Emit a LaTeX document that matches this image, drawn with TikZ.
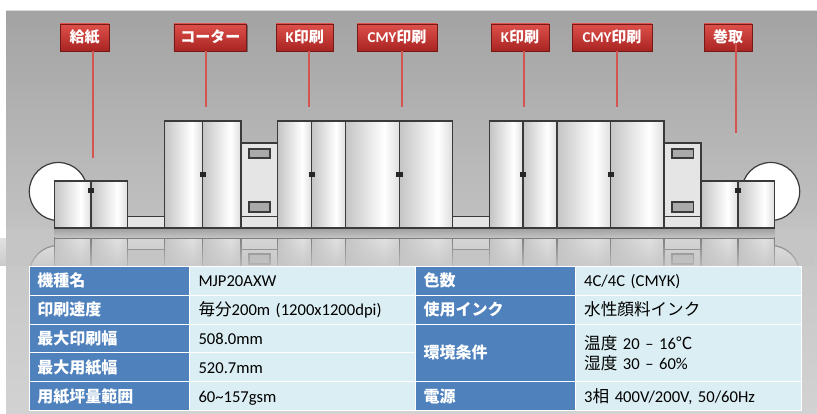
\documentclass[tikz,border=0pt]{standalone}
\usepackage{fontspec}
\setmainfont{Carlito}
\newfontfamily\jp{Noto Sans CJK JP}
\usetikzlibrary{shadows,fadings}

\definecolor{labelblue}{RGB}{79,129,189}
\definecolor{cellblue}{RGB}{218,238,243}
\definecolor{tagtop}{RGB}{222,80,74}
\definecolor{tagbot}{RGB}{168,36,34}
\definecolor{tagedge}{RGB}{118,26,24}
\definecolor{leader}{RGB}{212,84,82}
\definecolor{mline}{RGB}{58,58,58}
\definecolor{handlec}{RGB}{38,38,38}
\definecolor{bgtop}{RGB}{163,163,163}
\definecolor{bgmid}{RGB}{194,194,194}
\definecolor{bgfloor}{RGB}{197,197,197}
\definecolor{bgbot}{RGB}{210,210,210}
\definecolor{panel}{RGB}{229,229,229}
\definecolor{doorL}{RGB}{196,196,196}
\definecolor{doorR}{RGB}{222,222,222}
\definecolor{window}{RGB}{170,170,170}
\definecolor{floorshade}{RGB}{158,158,158}

% door panels: darker on the left, bright towards the right
\pgfdeclarehorizontalshading{door}{100bp}{color(0bp)=(doorL); color(25bp)=(doorL);
  color(61bp)=(white); color(75bp)=(doorR); color(100bp)=(doorR)}
\tikzfading[name=floorfade, top color=transparent!50, bottom color=transparent!10]

\tikzset{
  mach/.style={draw=mline, line width=1.2pt},
  tag/.style={draw=tagedge, line width=0.6pt, top color=tagtop, bottom color=tagbot,
    text=white, font=\bfseries\fontsize{15}{18}\selectfont, minimum height=27pt,
    inner xsep=0pt, inner ysep=0pt, text height=12pt, text depth=2.5pt,
    drop shadow={shadow xshift=1pt, shadow yshift=-1.5pt, opacity=0.35, fill=black}},
  leaderline/.style={draw=leader, line width=1.6pt},
  cell/.style={anchor=north west, draw=white, line width=1pt, minimum height=28.8pt,
    inner ysep=0pt, align=left},
  oneline/.style={text height=14pt, text depth=2.2pt},
  keycell/.style={cell, fill=labelblue, text=white, text width=144pt, inner xsep=8pt,
    font=\jp\bfseries\fontsize{16}{19}\selectfont},
  valcell/.style={cell, fill=cellblue, text=black, text width=208pt, inner xsep=9pt,
    font=\fontsize{16.6}{20}\selectfont},
}

% two-door cabinet: left, split, right, top
\newcommand\cabinet[4]{%
  \path[mach, shade, shading=door] (#1,#4) rectangle (#2,228);
  \path[mach, shade, shading=door] (#2,#4) rectangle (#3,228);
}
% dryer tower with two vents: left, right
\newcommand\dryer[2]{%
  \path[mach, fill=panel] (#1,143) rectangle (#2,228);
  \draw[mach] (#1,216.7) -- (#2,216.7);
  \path[mach, fill=window] (#1+8,149) rectangle (#2-7.7,158);
  \path[mach, fill=window] (#1+8,202) rectangle (#2-7.7,212);
}
\newcommand\knob[2]{\fill[handlec] (#1-3.2,#2-2.6) rectangle (#1+3.2,#2+2.6);}

% the whole press line, standing on y = 228
\newcommand\pressline{%
  \path[mach, fill=white] (58.3,191.5) circle[radius=29pt];
  \path[mach, fill=white] (770.7,191.5) circle[radius=29pt];
  \path[mach, fill=panel] (127.7,216.7) rectangle (164.3,228);
  \path[mach, fill=panel] (452.3,216.7) rectangle (489.7,228);
  \dryer{241}{277.7}
  \dryer{664}{701}
  \cabinet{54.3}{91}{127.7}{181}
  \cabinet{164.3}{202.7}{241}{121}
  \cabinet{277.7}{311.7}{345.7}{121}
  \cabinet{345.7}{399.3}{452.3}{121}
  \cabinet{489.7}{523}{557}{121}
  \cabinet{557}{610.7}{664}{121}
  \cabinet{701}{738}{774.7}{181}
  \knob{91}{190.2}
  \knob{738}{190.2}
  \knob{202.7}{174.2}
  \knob{311.7}{174.2}
  \knob{399.3}{174.2}
  \knob{523}{174.2}
  \knob{610.7}{174.2}
}

\begin{document}
\begin{tikzpicture}[x=1pt, y=-1pt]
\useasboundingbox (0,0) rectangle (817,414);
\fill[white] (0,0) rectangle (817,414);

% backdrop
\shade[top color=bgtop, bottom color=bgmid] (6,10.5) rectangle (817,230);
\shade[top color=bgfloor, bottom color=bgbot] (6,230) rectangle (817,414);
\draw[white!85!black, line width=0.6pt] (6,10.8) -- (817,10.8);

% mirrored press line on the glossy floor
\begin{scope}
  \clip (0,238) rectangle (817,266);
  \begin{scope}[yshift=-466pt, yscale=-1]
    \pressline
  \end{scope}
\end{scope}
\fill[bgfloor, path fading=floorfade] (0,238) rectangle (817,266);

% contact shadow under the machines
\shade[top color=floorshade, bottom color=bgfloor] (54.3,228) rectangle (774.7,238);

% the press line
\pressline

% section tags
\node[tag, minimum width=49pt]   (g1) at (84.7,37.5)  {\jp 給紙};
\node[tag, minimum width=72.7pt] (g2) at (210.3,37.5) {\jp コーター};
\node[tag, minimum width=57pt]   (g3) at (304.7,37.5) {K{\jp 印刷}};
\node[tag, minimum width=80pt]   (g4) at (397,37.5)   {CMY{\jp 印刷}};
\node[tag, minimum width=58pt]   (g5) at (520,37.5)   {K{\jp 印刷}};
\node[tag, minimum width=80pt]   (g6) at (612,37.5)   {CMY{\jp 印刷}};
\node[tag, minimum width=48pt]   (g7) at (728,37.5)   {\jp 巻取};

% leader lines
\coordinate (e1) at (92.7,158);
\coordinate (e2) at (206,107);
\coordinate (e3) at (309,107);
\coordinate (e4) at (402,107);
\coordinate (e5) at (524,107);
\coordinate (e6) at (617,107);
\coordinate (e7) at (736,132.7);
\draw[leaderline] (e1 |- g1.south) -- (e1);
\draw[leaderline] (e2 |- g2.south) -- (e2);
\draw[leaderline] (e3 |- g3.south) -- (e3);
\draw[leaderline] (e4 |- g4.south) -- (e4);
\draw[leaderline] (e5 |- g5.south) -- (e5);
\draw[leaderline] (e6 |- g6.south) -- (e6);
\draw[leaderline] ([yshift=7pt]e7 |- g7.south) -- (e7);

% specification table, left half
\node[keycell, oneline] (k1) at (29,266)   {機種名};
\node[keycell, oneline] (k2) at (29,294.8) {印刷速度};
\node[keycell, oneline] (k3) at (29,323.6) {最大印刷幅};
\node[keycell, oneline] (k4) at (29,352.4) {最大用紙幅};
\node[keycell, oneline] (k5) at (29,381.2) {用紙坪量範囲};
\node[valcell, oneline] (v1) at (189,266)   {MJP20AXW};
\node[valcell, oneline] (v2) at (189,294.8) {{\jp 毎分}200m (1200x1200dpi)};
\node[valcell, oneline] (v3) at (189,323.6) {508.0mm};
\node[valcell, oneline] (v4) at (189,352.4) {520.7mm};
\node[valcell, oneline] (v5) at (189,381.2) {60\textasciitilde157gsm};

% specification table, right half
\node[keycell, oneline] (k6) at (415,266)   {色数};
\node[keycell, oneline] (k7) at (415,294.8) {使用インク};
\node[keycell, minimum height=57.6pt] (k8) at (415,323.6) {環境条件};
\node[keycell, oneline] (k9) at (415,381.2) {電源};
\node[valcell, oneline] (v6) at (574.7,266)   {4C/4C (CMYK)};
\node[valcell, oneline] (v7) at (574.7,294.8) {{\jp 水性顔料インク}};
\node[valcell, minimum height=57.6pt] (v8) at (574.7,323.6)
  {{\jp 温度} 20 – 16{\jp ℃}\\{\jp 湿度} 30 – 60\%};
\node[valcell, oneline] (v9) at (574.7,381.2) {3{\jp 相} 400V/200V, 50/60Hz};
\end{tikzpicture}
\end{document}
